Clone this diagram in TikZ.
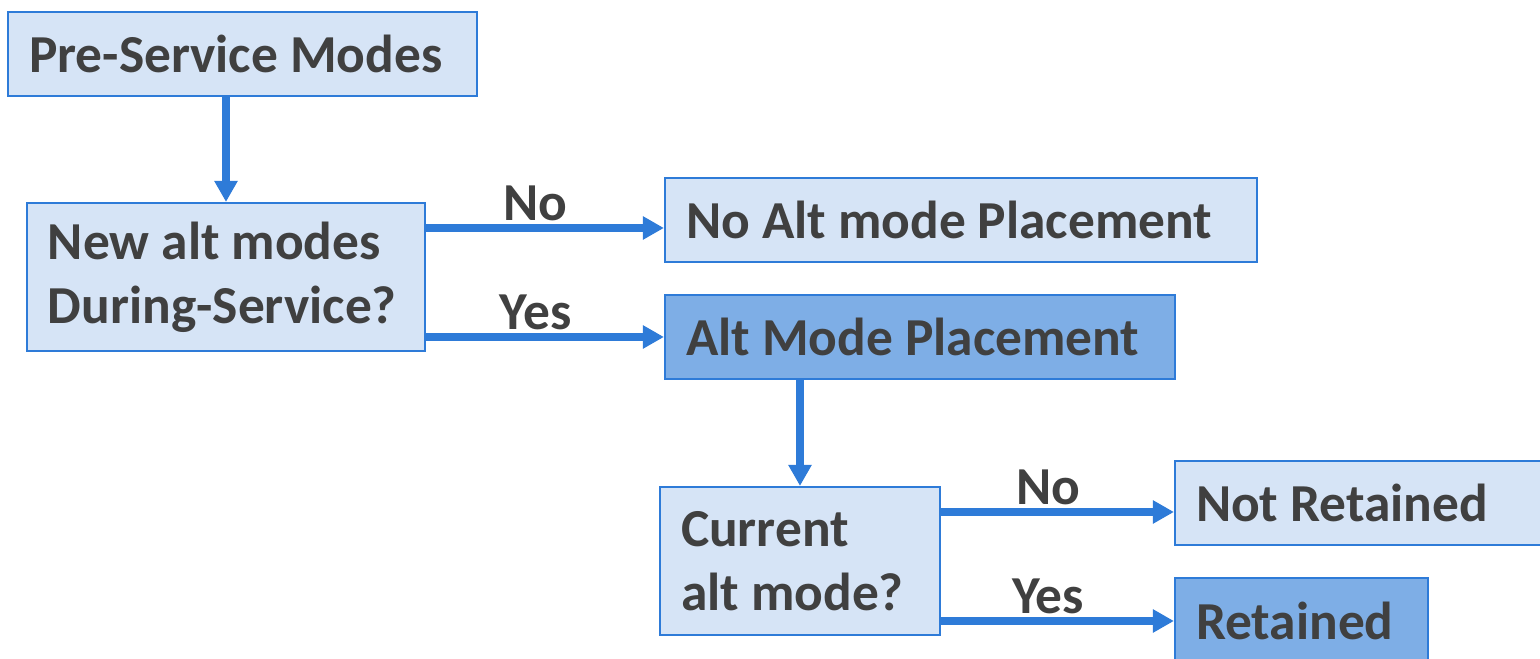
\documentclass[tikz,border=0pt]{standalone}
\usepackage{fontspec}
\setmainfont{Carlito}
\usetikzlibrary{arrows.meta}
\definecolor{boxline}{HTML}{2E7BD8}
\definecolor{boxfill}{HTML}{D6E4F6}
\definecolor{boxdark}{HTML}{7EAEE6}
\definecolor{boxtext}{HTML}{404040}
\tikzset{
  mode/.style={draw=boxline,fill=boxfill,line width=0.6pt,text=boxtext,
    font=\fontsize{15.2}{18.2}\selectfont\bfseries,align=flush left,
    inner xsep=0.21cm,inner ysep=0pt,minimum height=0.84cm},
  placed/.style={mode,fill=boxdark},
  answer/.style={text=boxtext,font=\fontsize{15.2}{18.2}\selectfont\bfseries,inner sep=1pt,pos=0.46},
}
\begin{document}
\begin{tikzpicture}[->,>={Triangle[width=6.3pt,length=6pt]},auto,line width=2pt,draw=boxline]
            \useasboundingbox (0,0) rectangle (15.4,-6.59);
            \node[mode,text width=4.27cm](Pre)at(2.425,-0.54){Pre-Service Modes};
            \node[mode,text width=3.56cm,minimum height=1.48cm](NewAlt)at(2.26,-2.77){New alt modes\\During-Service?};
            \node[mode,text width=5.50cm](NoAlt)at(9.61,-2.20){No Alt mode Placement};
            \node[placed,text width=4.68cm](AltPl)at(9.20,-3.37){Alt Mode Placement};
            \node[mode,text width=2.38cm,minimum height=1.48cm](Current)at(8.00,-5.61){Current\\alt mode?};
            \node[mode,text width=3.43cm](NotRet)at(13.675,-5.03){Not Retained};
            \node[placed,text width=2.11cm,minimum height=0.86cm](Ret)at(13.015,-6.21){Retained};
            \path[](Pre.south -| NewAlt.north) edge (NewAlt.north)
            ([yshift=-0.08cm]NewAlt.east |- NoAlt.west) edge node[answer]{No} ([yshift=-0.08cm]NoAlt.west)
            (NewAlt.east |- AltPl.west) edge node[answer]{Yes} (AltPl.west)
            (AltPl.south -| Current.north) edge (Current.north)
            ([yshift=-0.09cm]Current.east |- NotRet.west) edge node[answer]{No} ([yshift=-0.09cm]NotRet.west)
            (Current.east |- Ret.west) edge node[answer]{Yes} (Ret.west);
        \end{tikzpicture}
\end{document}
